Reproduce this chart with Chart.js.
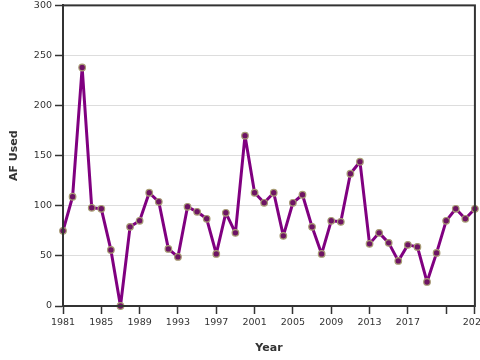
<!DOCTYPE html>
<html>
<head>
<meta charset="utf-8">
<script src="https://cdn.jsdelivr.net/npm/chart.js@4"></script>
<style>
html,body{margin:0;padding:0;background:#fff;overflow:hidden;width:480px;height:360px;}
#wrap{position:absolute;left:0;top:0;width:490px;height:360px;}
</style>
</head>
<body>
<div id="wrap"><canvas id="c" width="490" height="360"></canvas></div>
<script>
const years = [1981,1982,1983,1984,1985,1986,1987,1988,1989,1990,1991,1992,1993,1994,1995,1996,1997,1998,1999,2000,2001,2002,2003,2004,2005,2006,2007,2008,2009,2010,2011,2012,2013,2014,2015,2016,2017,2018,2019,2020,2021,2022,2023,2024];
const afUsed = [75,109,238,98,97,56,0,79,85,113,104,57,49,99,94,87,52,93,73,170,113,103,113,70,103,111,79,52,85,84,132,144,62,73,63,45,61,59,24,53,85,97,87,97];
const xTickValues = [1981,1985,1989,1993,1997,2001,2005,2009,2013,2017,2021,2024];
const xTickLabels = ['1981','1985','1989','1993','1997','2001','2005','2009','2013','2017','','2024'];
const yTickValues = [0,50,100,150,200,250,300];

const FONT = "'DejaVu Sans', Verdana, sans-serif";

const frame = {
  id: 'frame',
  afterDraw(chart) {
    const a = chart.chartArea, ctx = chart.ctx;
    ctx.save();
    ctx.strokeStyle = '#333';
    ctx.lineWidth = 2;
    ctx.strokeRect(a.left, a.top, a.right - a.left, a.bottom - a.top);
    ctx.restore();
  }
};

new Chart(document.getElementById('c'), {
  type: 'line',
  data: {
    datasets: [{
      data: years.map((y, i) => ({x: y, y: afUsed[i]})),
      borderColor: '#800080',
      borderWidth: 3,
      borderJoinStyle: 'round',
      tension: 0,
      pointRadius: 3.3,
      pointBackgroundColor: '#6e1464',
      pointBorderColor: '#a89c74',
      pointBorderWidth: 1.2,
      clip: false
    }]
  },
  options: {
    responsive: false,
    devicePixelRatio: 1,
    animation: false,
    layout: {padding: {top: 0, left: 0, right: 0, bottom: 0}},
    plugins: {legend: {display: false}, tooltip: {enabled: false}},
    scales: {
      x: {
        type: 'linear',
        min: 1981, max: 2024,
        afterBuildTicks(s) { s.ticks = xTickValues.map(v => ({value: v})); },
        afterFit(s) { s.height = 54; },
        grid: {drawOnChartArea: false, drawTicks: true, tickLength: 8, tickColor: '#333', tickWidth: 1.5},
        border: {display: true, color: '#333', width: 2},
        ticks: {
          autoSkip: false, maxRotation: 0, padding: 3,
          color: '#333', font: {family: FONT, size: 9.5},
          callback(v) { const i = xTickValues.indexOf(v); return i >= 0 ? xTickLabels[i] : ''; }
        },
        title: {display: true, text: 'Year', color: '#333', font: {family: FONT, size: 11, weight: 'bold'}, padding: {top: 8, bottom: 5}}
      },
      y: {
        min: 0, max: 300,
        afterBuildTicks(s) { s.ticks = yTickValues.map(v => ({value: v})); },
        afterFit(s) { s.width = 63; },
        grid: {color: '#dddddd', lineWidth: 1, drawTicks: true, tickLength: 8, tickColor: '#333', tickWidth: 1.5},
        border: {display: true, color: '#333', width: 2},
        ticks: {padding: 3, color: '#333', font: {family: FONT, size: 9.5, lineHeight: 0.5}},
        title: {display: true, text: 'AF Used', color: '#333', font: {family: FONT, size: 11, weight: 'bold'}, padding: {top: 8, bottom: 8}}
      }
    }
  },
  plugins: [frame]
});
</script>
</body>
</html>
